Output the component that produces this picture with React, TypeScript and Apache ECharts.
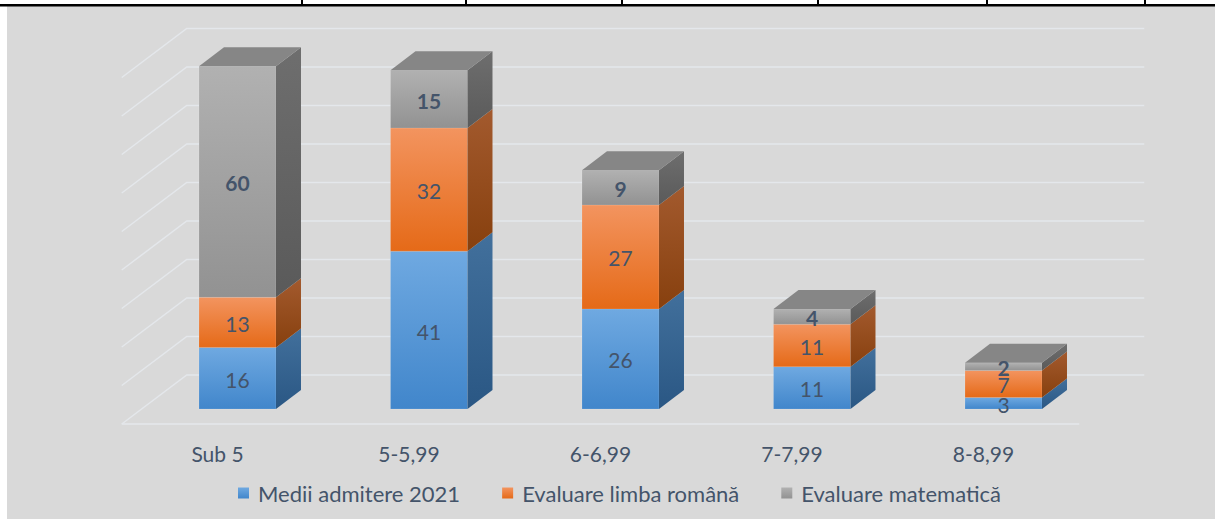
import React, { useEffect, useRef } from "react";
import * as echarts from "echarts";

const categories = ["Sub 5", "5-5,99", "6-6,99", "7-7,99", "8-8,99"];
const seriesNames = ["Medii admitere 2021", "Evaluare limba română", "Evaluare matematică"];
const mediiAdmitere = [16, 41, 26, 11, 3];
const evaluareRomana = [13, 32, 27, 11, 7];
const evaluareMatematica = [60, 15, 9, 4, 2];
const gridValues = [0, 10, 20, 30, 40, 50, 60, 70, 80, 90];
const topTickXs = [302, 466, 622, 818, 987, 1145];

const seriesValues = [mediiAdmitere, evaluareRomana, evaluareMatematica];

const FONT = "Lato, 'Open Sans', sans-serif";
const LABEL_COLOR = "#44546a";
// 3D offsets (pixels)
const BAR_DX = 25;
const BAR_DY = -19;
const FLOOR_DX = -20;
const FLOOR_DY = 15;
const WALL_DX = 45;
const WALL_DY = -34;

const lg = (a: string, b: string) =>
  new echarts.graphic.LinearGradient(0, 0, 0, 1, [
    { offset: 0, color: a },
    { offset: 1, color: b },
  ]);

const faceColors = [
  { front: ["#6fa9e1", "#4186cb"], side: ["#42709c", "#2a5784"], top: "#5b8fc4" },
  { front: ["#f3945f", "#e56a18"], side: ["#a35a2e", "#87400e"], top: "#c26a30" },
  { front: ["#b1b1b1", "#929292"], side: ["#6e6e6e", "#5a5a5a"], top: "#868686" },
];

export default function App() {
  const ref = useRef<HTMLDivElement>(null);
  useEffect(() => {
    document.body.style.margin = "0";
    if (!ref.current) return;
    const chart = echarts.init(ref.current, undefined, { renderer: "svg" });

    const wallSeries: any = {
      type: "custom",
      name: "__walls",
      silent: true,
      clip: false,
      z: 1,
      data: [[0, 0]],
      renderItem: (_params: any, api: any) => {
        const band = api.size([1, 0])[0];
        const left = api.coord([0, 0])[0] - band / 2;
        const right = api.coord([categories.length - 1, 0])[0] + band / 2;
        const children: any[] = [];
        const lineStyle = { stroke: "#e4e7eb", lineWidth: 1.5, fill: null };
        gridValues.forEach((v) => {
          const y = api.coord([0, v])[1];
          children.push({
            type: "polyline",
            shape: {
              points: [
                [left + FLOOR_DX, y + FLOOR_DY],
                [left + WALL_DX, y + WALL_DY],
                [right + WALL_DX, y + WALL_DY],
              ],
            },
            style: lineStyle,
          });
        });
        const y0 = api.coord([0, 0])[1];
        children.push({
          type: "line",
          shape: { x1: left + FLOOR_DX, y1: y0 + FLOOR_DY, x2: right + FLOOR_DX, y2: y0 + FLOOR_DY },
          style: lineStyle,
        });
        return { type: "group", children };
      },
    };

    const barSeries = seriesValues.map((vals, si) => ({
      type: "custom",
      name: seriesNames[si],
      clip: false,
      z: 5,
      itemStyle: { color: lg(faceColors[si].front[0], faceColors[si].front[1]) },
      encode: { x: 0, y: 1 },
      data: categories.map((_, i) => [i, vals[i]]),
      renderItem: (params: any, api: any) => {
        const i = params.dataIndex;
        const value = api.value(1);
        let base = 0;
        for (let k = 0; k < si; k++) base += seriesValues[k][i];
        const band = api.size([1, 0])[0];
        const w = band * 0.402;
        const cx = api.coord([i, 0])[0];
        const yb = api.coord([i, base])[1];
        const yt = api.coord([i, base + value])[1];
        const x0 = cx - w / 2;
        const x1 = cx + w / 2;
        const c = faceColors[si];
        const isTop = si === seriesValues.length - 1;
        const children: any[] = [
          {
            type: "rect",
            shape: { x: x0, y: yt, width: w, height: yb - yt },
            style: { fill: lg(c.front[0], c.front[1]), stroke: "rgba(255,255,255,0.15)", lineWidth: 0.8 },
          },
          {
            type: "polygon",
            shape: {
              points: [
                [x1, yt],
                [x1 + BAR_DX, yt + BAR_DY],
                [x1 + BAR_DX, yb + BAR_DY],
                [x1, yb],
              ],
            },
            style: { fill: lg(c.side[0], c.side[1]) },
          },
        ];
        if (isTop) {
          children.push({
            type: "polygon",
            shape: {
              points: [
                [x0, yt],
                [x0 + BAR_DX, yt + BAR_DY],
                [x1 + BAR_DX, yt + BAR_DY],
                [x1, yt],
              ],
            },
            style: { fill: c.top },
          });
        }
        children.push({
          type: "text",
          z2: 10,
          style: {
            text: String(value),
            x: cx,
            y: (yt + yb) / 2 + 1,
            align: "center",
            verticalAlign: "middle",
            fill: LABEL_COLOR,
            fontSize: 21,
            fontFamily: FONT,
            fontWeight: si === 2 ? "bold" : "normal",
          },
        });
        return { type: "group", children };
      },
    }));

    const graphics: any[] = [
      { type: "rect", z: -10, shape: { x: 7, y: 6, width: 1208, height: 513 }, style: { fill: "#d9d9d9" } },
      { type: "rect", z: -5, shape: { x: 0, y: 4, width: 1215, height: 2.5 }, style: { fill: "#000" } },
      ...topTickXs.map((x) => ({
        type: "rect",
        z: -5,
        shape: { x: x - 1, y: 0, width: 2, height: 6 },
        style: { fill: "#000" },
      })),
    ];

    chart.setOption({
      animation: false,
      graphic: graphics,
      grid: { left: 141.75, right: 115.75, top: 62.5, bottom: 110, containLabel: false },
      xAxis: {
        type: "category",
        data: categories,
        axisLine: { show: false },
        axisTick: { show: false },
        axisLabel: {
          margin: 34,
          fontSize: 21,
          fontFamily: FONT,
          color: LABEL_COLOR,
          padding: [0, -FLOOR_DX * 2, 0, 0],
        },
      },
      yAxis: { type: "value", min: 0, max: 90, interval: 10, show: false, splitLine: { show: false } },
      legend: {
        data: seriesNames,
        icon: "rect",
        itemWidth: 11,
        itemHeight: 11,
        itemGap: 42,
        left: 233,
        top: 477,
        textStyle: { fontSize: 22, fontFamily: FONT, color: LABEL_COLOR, padding: [0, 0, 0, 4] },
      },
      series: [wallSeries, ...barSeries],
    });
    return () => chart.dispose();
  }, []);
  return <div ref={ref} style={{ width: 1215, height: 519 }} />;
}
